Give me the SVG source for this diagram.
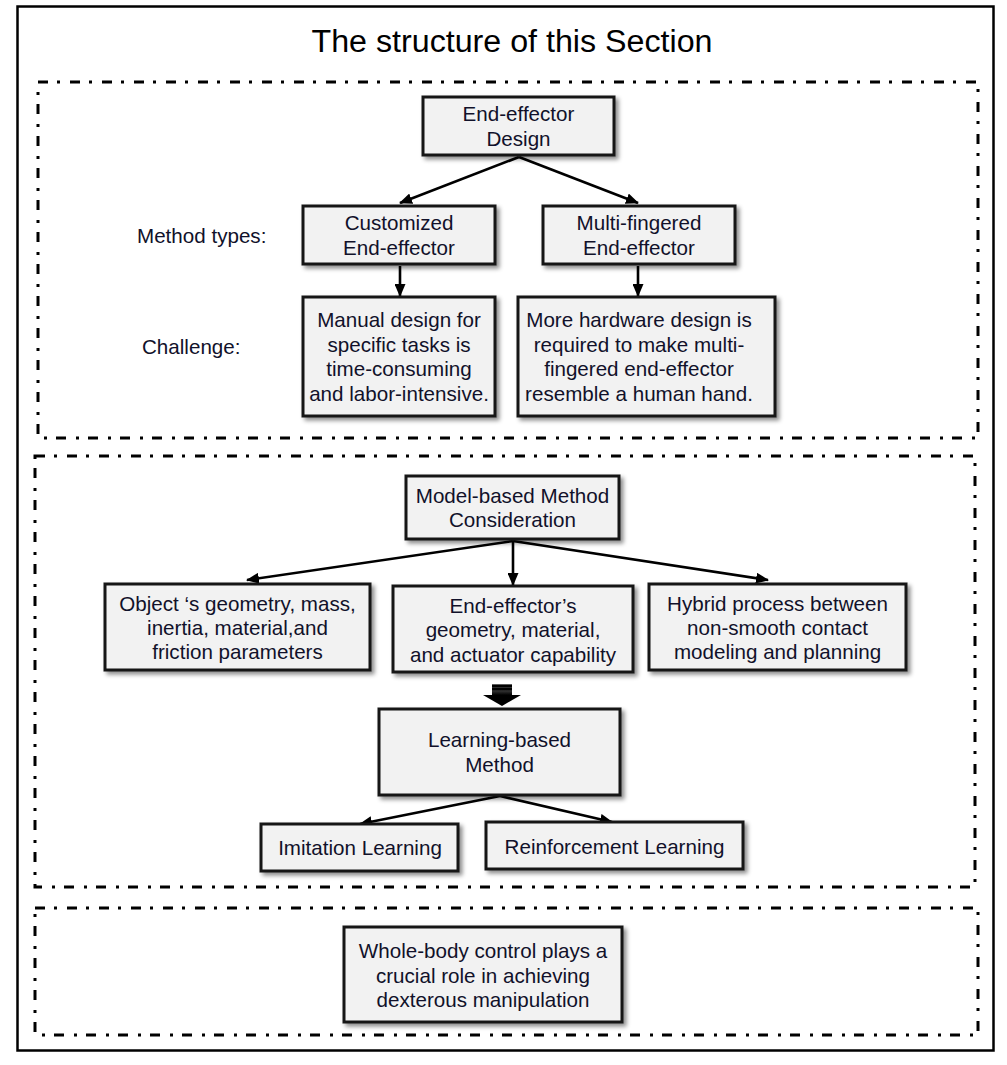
<svg xmlns="http://www.w3.org/2000/svg" width="1007" height="1065" viewBox="0 0 1007 1065">
<style>
.sec{fill:none;stroke:#000;stroke-width:3;stroke-dasharray:10 9 3 10}
.box rect{fill:#f2f2f2;stroke:#151515;stroke-width:3;filter:url(#sh)}
.box text,.lbl{font-family:"Liberation Sans",Arial,sans-serif;font-size:20.6px;fill:#11112a;text-anchor:middle}
.lbl{text-anchor:start}
.con line{stroke:#000;stroke-width:2.6;marker-end:url(#ah)}
</style>
<defs>
<filter id="sh" x="-10%" y="-10%" width="130%" height="140%">
<feDropShadow dx="3" dy="3" stdDeviation="2" flood-color="#000" flood-opacity="0.45"/>
</filter>
<marker id="ah" markerWidth="13" markerHeight="11" refX="12" refY="5.5" orient="auto" markerUnits="userSpaceOnUse">
<path d="M0,0 L13,5.5 L0,11 Z" fill="#000"/>
</marker>
<linearGradient id="bg" x1="0" y1="0" x2="0" y2="1">
<stop offset="0" stop-color="#888"/>
<stop offset="1" stop-color="#000"/>
</linearGradient>
</defs>
<rect width="1007" height="1065" fill="#fff"/>
<rect x="17.5" y="6.5" width="976" height="1044" fill="none" stroke="#000" stroke-width="2.5"/>
<text x="512" y="52" font-family="Liberation Sans,Arial,sans-serif" font-size="31" text-anchor="middle" fill="#000" textLength="401" lengthAdjust="spacingAndGlyphs">The structure of this Section</text>
<rect class="sec" x="38" y="82" width="940" height="356"/>
<rect class="sec" x="35" y="456" width="940" height="431"/>
<rect class="sec" x="35" y="908" width="943" height="127"/>
<text class="lbl" x="137" y="243">Method types:</text>
<text class="lbl" x="142" y="354">Challenge:</text>
<g class="con" id="connectors">
<line x1="519" y1="157" x2="400" y2="203"/>
<line x1="519" y1="157" x2="638" y2="203"/>
<line x1="400" y1="266" x2="400" y2="296"/>
<line x1="638" y1="266" x2="638" y2="296"/>
<line x1="513" y1="541" x2="247" y2="580"/>
<line x1="513" y1="541" x2="513" y2="585"/>
<line x1="513" y1="541" x2="768" y2="580"/>
<line x1="500" y1="796" x2="360" y2="824"/>
<line x1="500" y1="796" x2="612" y2="822"/>
<g id="blockarrow">
<rect x="492" y="684" width="20" height="11" fill="url(#bg)"/>
<line x1="492" y1="686" x2="512" y2="686" stroke="#fff" stroke-width="0.8" style="marker-end:none"/>
<line x1="492" y1="689" x2="512" y2="689" stroke="#fff" stroke-width="0.6" style="marker-end:none"/>
<polygon points="483,695 521,695 502,706" fill="#000"/>
</g>
</g>
<g class="box" id="n1"><rect x="423" y="97" width="191" height="58"/><text x="518.5" y="121">End-effector</text><text x="518.5" y="146">Design</text></g>
<g class="box" id="n2"><rect x="303" y="206" width="192" height="58"/><text x="399" y="230">Customized</text><text x="399" y="255">End-effector</text></g>
<g class="box" id="n3"><rect x="543" y="206" width="192" height="58"/><text x="639" y="230">Multi-fingered</text><text x="639" y="255">End-effector</text></g>
<g class="box" id="n4"><rect x="303" y="297" width="192" height="119"/><text x="399" y="327">Manual design for</text><text x="399" y="352">specific tasks is</text><text x="399" y="376">time-consuming</text><text x="399" y="401">and labor-intensive.</text></g>
<g class="box" id="n5"><rect x="518" y="297" width="257" height="119"/><text x="639" y="327">More hardware design is</text><text x="639" y="352">required to make multi-</text><text x="639" y="376">fingered end-effector</text><text x="639" y="401">resemble a human hand.</text></g>
<g class="box" id="n6"><rect x="406" y="476" width="213" height="63"/><text x="512.5" y="503">Model-based Method</text><text x="512.5" y="527">Consideration</text></g>
<g class="box" id="n7"><rect x="105" y="584" width="265" height="86"/><text x="237.5" y="611">Object ‘s geometry, mass,</text><text x="237.5" y="635">inertia, material,and</text><text x="237.5" y="659">friction parameters</text></g>
<g class="box" id="n8"><rect x="393" y="586" width="240" height="86"/><text x="513" y="613">End-effector’s</text><text x="513" y="637">geometry, material,</text><text x="513" y="662">and actuator capability</text></g>
<g class="box" id="n9"><rect x="649" y="584" width="257" height="86"/><text x="777.5" y="611">Hybrid process between</text><text x="777.5" y="635">non-smooth contact</text><text x="777.5" y="659">modeling and planning</text></g>
<g class="box" id="n10"><rect x="379" y="709" width="241" height="86"/><text x="499.5" y="747">Learning-based</text><text x="499.5" y="772">Method</text></g>
<g class="box" id="n11"><rect x="261" y="824" width="197" height="47"/><text x="360" y="855">Imitation Learning</text></g>
<g class="box" id="n12"><rect x="486" y="822" width="257" height="47"/><text x="614.5" y="854">Reinforcement Learning</text></g>
<g class="box" id="n13"><rect x="344" y="927" width="278" height="95"/><text x="483" y="958">Whole-body control plays a</text><text x="483" y="983">crucial role in achieving</text><text x="483" y="1007">dexterous manipulation</text></g>
</svg>
